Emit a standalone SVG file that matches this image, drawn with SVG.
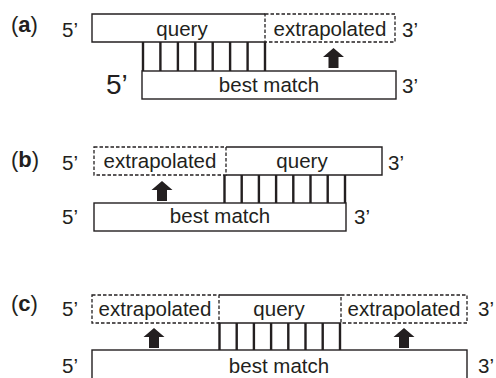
<svg xmlns="http://www.w3.org/2000/svg" width="496" height="378" viewBox="0 0 496 378">
<style>
text{font-family:"Liberation Sans",Arial,sans-serif;font-size:20.5px;fill:#231f20}
.c{text-anchor:middle}
.big{font-size:28px}
.lbl{font-size:22px}
.solid{fill:none;stroke:#231f20;stroke-width:1.4}
.dash{fill:none;stroke:#231f20;stroke-width:1.3;stroke-dasharray:3.5 2}
.bar{stroke:#231f20;stroke-width:2.4}
.arr{fill:#231f20}
</style>
<defs>
<path id="arrow" d="M0,0 L10.5,9 L5,9 L5,20 L-5,20 L-5,9 L-10.5,9 Z"/>
</defs>
<rect width="496" height="378" fill="#fff"/>

<g id="panel-a">
  <text class="lbl" x="11" y="32">(<tspan font-weight="bold">a</tspan>)</text>
  <g id="a-query">
    <path class="solid" d="M265,14 H92 V42 H265"/>
    <text class="c" x="182" y="36">query</text>
  </g>
  <g id="a-extrapolated">
    <rect class="dash" x="265" y="14" width="130" height="28"/>
    <text class="c" x="330" y="36">extrapolated</text>
  </g>
  <g id="a-bestmatch">
    <rect class="solid" x="142" y="71" width="254" height="28"/>
    <text class="c" x="269" y="92">best match</text>
  </g>
  <text x="62" y="37">5’</text>
  <text x="402" y="37">3’</text>
  <text class="big" x="106" y="94">5’</text>
  <text x="402" y="93">3’</text>
</g>

<g id="panel-b">
  <text class="lbl" x="11" y="167">(<tspan font-weight="bold">b</tspan>)</text>
  <g id="b-extrapolated">
    <rect class="dash" x="94" y="147" width="132" height="28"/>
    <text class="c" x="160" y="168">extrapolated</text>
  </g>
  <g id="b-query">
    <path class="solid" d="M226,147 H382 V175 H226"/>
    <text class="c" x="302" y="168">query</text>
  </g>
  <g id="b-bestmatch">
    <rect class="solid" x="94" y="203" width="252" height="28"/>
    <text class="c" x="220" y="223">best match</text>
  </g>
  <text x="62" y="170">5’</text>
  <text x="388" y="170">3’</text>
  <text x="62" y="224">5’</text>
  <text x="354" y="224">3’</text>
</g>

<g id="panel-c">
  <text class="lbl" x="11" y="311">(<tspan font-weight="bold">c</tspan>)</text>
  <g id="c-extrapolated-left">
    <rect class="dash" x="92" y="295" width="127" height="28"/>
    <text class="c" x="155" y="316">extrapolated</text>
  </g>
  <g id="c-query">
    <path class="solid" d="M219,295 H341 M219,323 H341"/>
    <text class="c" x="279" y="316">query</text>
  </g>
  <g id="c-extrapolated-right">
    <rect class="dash" x="341" y="295" width="126" height="28"/>
    <text class="c" x="404" y="316">extrapolated</text>
  </g>
  <g id="c-bestmatch">
    <rect class="solid" x="92" y="350" width="375" height="32"/>
    <text class="c" x="279" y="373">best match</text>
  </g>
  <text x="62" y="316">5’</text>
  <text x="478" y="316">3’</text>
  <text x="62" y="373">5’</text>
  <text x="478" y="373">3’</text>
</g>

<g id="connectors">
  <g class="bar">
    <path d="M143,42V71 M160.4,42V71 M177.9,42V71 M195.3,42V71 M212.7,42V71 M230.1,42V71 M247.6,42V71 M265,42V71"/>
    <path d="M224.5,175V203 M241.7,175V203 M258.9,175V203 M276.1,175V203 M293.3,175V203 M310.5,175V203 M327.7,175V203 M345,175V203"/>
    <path d="M219.5,323V350 M236.7,323V350 M253.9,323V350 M271.1,323V350 M288.3,323V350 M305.5,323V350 M322.7,323V350 M340,323V350"/>
  </g>
  <g class="arr">
    <use href="#arrow" x="333.5" y="48"/>
    <use href="#arrow" x="162" y="181"/>
    <use href="#arrow" x="154" y="328"/>
    <use href="#arrow" x="404" y="328"/>
  </g>
</g>
</svg>
